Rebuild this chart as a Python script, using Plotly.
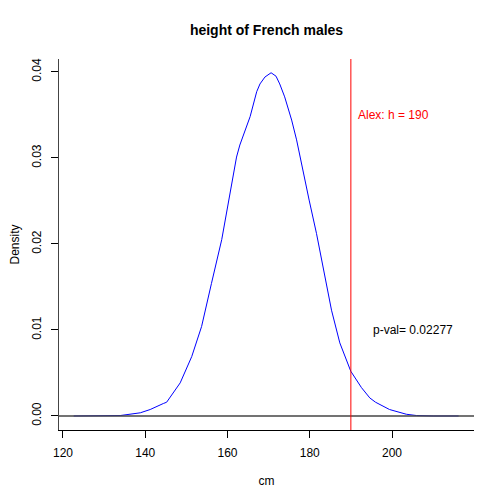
import plotly.graph_objects as go

# density curve (cm, density)
height_cm = [122.6, 133.9, 138.8, 141.2, 144.4, 145.2, 148.5, 151.3, 153.7, 155.3,
             156.1, 158.6, 160.2, 162.2, 163.0, 165.5, 167.1, 167.9, 169.1, 170.6,
             171.8, 172.7, 173.9, 175.6, 176.8, 178.4, 179.85, 181.65, 183.67, 185.29,
             187.31, 189.98, 192.57, 194.6, 196.0, 199.4, 203.5, 206.0, 210.0, 216.2]
density = [0.0, 0.00005, 0.00037, 0.00075, 0.00145, 0.0016, 0.00385, 0.0069, 0.0104, 0.0135,
           0.0154, 0.0205, 0.0247, 0.0301, 0.0315, 0.0348, 0.0377, 0.0386, 0.0394, 0.0399,
           0.0395, 0.0386, 0.0371, 0.0344, 0.0321, 0.0282, 0.0251, 0.0212, 0.0161, 0.0123,
           0.0085, 0.0052, 0.0033, 0.0021, 0.0016, 0.00075, 0.0002, 0.00005, 0.0, 0.0]

alex_height = 190
p_value = 0.02277
x_ticks = [120, 140, 160, 180, 200]
y_ticks = [0.00, 0.01, 0.02, 0.03, 0.04]

FONT = "Liberation Sans, Arial, sans-serif"
W, H = 488, 488  # page body keeps an 8px margin

fig = go.Figure()
fig.add_trace(go.Scatter(x=height_cm, y=density, mode="lines",
                         line=dict(color="#0000FF", width=1), hoverinfo="skip"))

# abline(h=0) and abline(v=190)
fig.add_shape(type="line", xref="paper", x0=0, x1=1, yref="y", y0=0, y1=0,
              line=dict(color="#444444", width=1.3))
fig.add_shape(type="line", xref="x", x0=alex_height, x1=alex_height, yref="paper", y0=0, y1=1,
              line=dict(color="#FF0000", width=1))

fig.add_annotation(x=alex_height + 1.3, y=0.035, text="Alex: h = 190", showarrow=False,
                   xanchor="left", font=dict(color="#FF0000", size=12, family=FONT))
fig.add_annotation(x=205, y=0.010, text=f"p-val= {p_value}", showarrow=False,
                   xanchor="center", font=dict(color="black", size=12, family=FONT))

fig.update_layout(
    width=W, height=H,
    margin=dict(l=51, r=22, t=51, b=66),
    plot_bgcolor="white", paper_bgcolor="white",
    showlegend=False,
    font=dict(family=FONT, size=12, color="black"),
    title=dict(text="<b>height of French males</b>", x=(266.5 - 8) / W, xanchor="center",
               y=1 - 22 / H, yanchor="middle", yref="container",
               font=dict(size=14, family=FONT, color="black")),
    xaxis=dict(range=[119.03, 219.94], tickvals=x_ticks, showgrid=False, zeroline=False,
               showline=True, linecolor="black", linewidth=1, ticks="outside", ticklen=7,
               tickcolor="black", tickfont=dict(size=12), ticklabelstandoff=5, automargin=False,
               title=dict(text="cm", standoff=17, font=dict(size=12))),
    yaxis=dict(range=[-0.00163, 0.0415], tickvals=y_ticks, tickformat=".2f", showgrid=False,
               zeroline=False, showline=True, linecolor="#444444", linewidth=1.3, ticks="outside",
               ticklen=7, tickcolor="black", tickangle=-90, tickfont=dict(size=12),
               ticklabelstandoff=5, automargin=False,
               title=dict(text="Density", standoff=16, font=dict(size=12))),
)

fig.write_html("out.html")
